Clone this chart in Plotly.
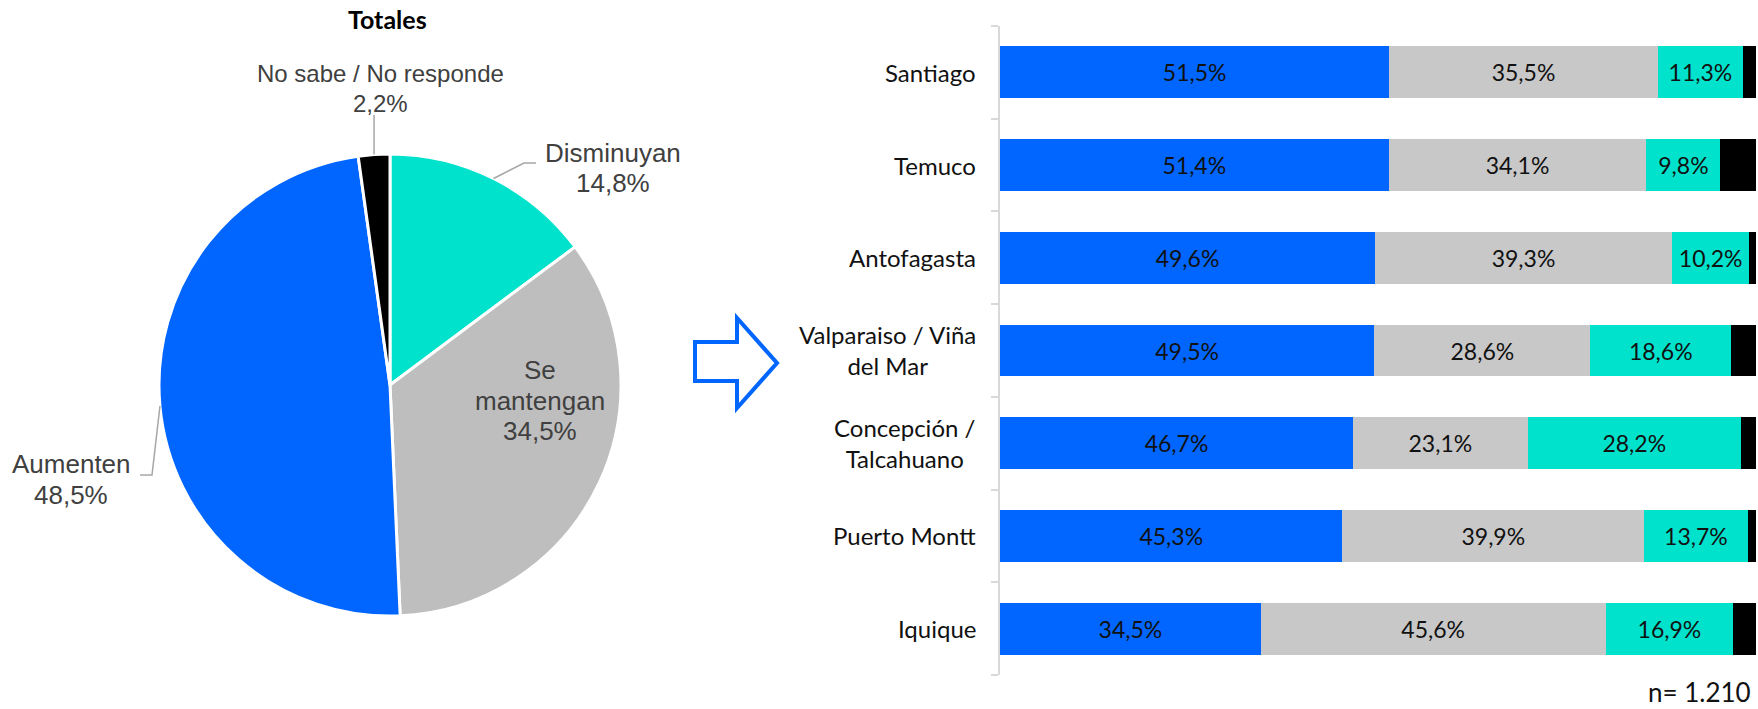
import math
import plotly.graph_objects as go

W, H = 1758, 709

# pie data (totals)
pie_labels = ["Disminuyan", "Se mantengan", "Aumenten", "No sabe / No responde"]
pie_values = [14.8, 34.5, 48.5, 2.2]
pie_colors = ["#00E2CC", "#BEBEBE", "#0066FF", "#000000"]

# stacked bar data by city
cities = ["Santiago", "Temuco", "Antofagasta", "Valparaiso / Viña<br>del Mar",
          "Concepción /<br>Talcahuano", "Puerto Montt", "Iquique"]
aumenten = [51.5, 51.4, 49.6, 49.5, 46.7, 45.3, 34.5]
mantengan = [35.5, 34.1, 39.3, 28.6, 23.1, 39.9, 45.6]
disminuyan = [11.3, 9.8, 10.2, 18.6, 28.2, 13.7, 16.9]
nsnr = [1.7, 4.7, 0.9, 3.3, 2.0, 1.1, 3.0]
n_text = "n= 1.210"


def px(x):
    return x / W


def py(y):
    return 1 - y / H


def pct(v):
    return f"{v:.1f}".replace(".", ",") + "%"


# pie geometry in pixels
cx, cy, r = 390, 385, 231

fig = go.Figure()

fig.add_trace(go.Pie(
    labels=pie_labels, values=pie_values, sort=False, direction="clockwise",
    marker=dict(colors=pie_colors, line=dict(color="white", width=3)),
    textinfo="none", hoverinfo="skip", showlegend=False,
    domain=dict(x=[px(cx - r), px(cx + r)], y=[py(cy + r), py(cy - r)]),
))

bar_colors = ["#0066FF", "#C8C8C8", "#00E2CC", "#000000"]
series = [aumenten, mantengan, disminuyan, nsnr]
for i, (vals, col) in enumerate(zip(series, bar_colors)):
    fig.add_trace(go.Bar(
        y=list(range(len(cities))), x=vals, orientation="h",
        marker=dict(color=col, line=dict(width=0)),
        text=[pct(v) for v in vals] if i < 3 else None,
        textposition="inside", insidetextanchor="middle", textangle=0,
        insidetextfont=dict(family="Lato", size=23, color="#111111"),
        hoverinfo="skip", showlegend=False,
    ))

# axes for bar chart
fig.update_xaxes(domain=[px(1000), px(1756)], range=[0, 100], visible=False)
fig.update_yaxes(
    domain=[py(675), py(26)], range=[6.5, -0.5], type="linear",
    showline=True, linecolor="#D9D9D9", linewidth=2,
    ticks="outside", ticklen=7, tickcolor="#D9D9D9", tickwidth=2,
    tickmode="array", tickvals=[k - 0.5 for k in range(len(cities) + 1)],
    showticklabels=False, showgrid=False, zeroline=False,
)

annotations = []
# city labels
for k, c in enumerate(cities):
    annotations.append(dict(
        x=px(978), xref="paper", y=k, yref="y", text=c, showarrow=False,
        xanchor="right", yanchor="middle", align="center",
        font=dict(family="Lato", size=24, color="#111111"),
    ))

# pie labels, one annotation per line (x centre, first line y, font size)
pie_text_pos = {
    "Disminuyan": (613, 153, 26),
    "Se mantengan": (540, 370, 26),
    "Aumenten": (71, 464, 26),
    "No sabe / No responde": (380, 73, 24),
}
line_step = 30.5
for lab, val in zip(pie_labels, pie_values):
    x, y0, fs = pie_text_pos[lab]
    lines = ["Se", "mantengan"] if lab == "Se mantengan" else [lab]
    lines = lines + [pct(val)]
    for j, t in enumerate(lines):
        annotations.append(dict(
            x=px(x), y=py(y0 + j * line_step), xref="paper", yref="paper",
            text=t, showarrow=False, xanchor="center", yanchor="middle",
            font=dict(family="Arial, Liberation Sans", size=fs, color="#404040"),
        ))

annotations.append(dict(
    x=px(387), y=py(19), xref="paper", yref="paper", text="<b>Totales</b>",
    showarrow=False, xanchor="center", yanchor="middle",
    font=dict(family="Lato", size=25, color="#000000"),
))
annotations.append(dict(
    x=px(1753), y=py(692), xref="paper", yref="paper", text=n_text,
    showarrow=False, xanchor="right", yanchor="middle",
    font=dict(family="Lato", size=26, color="#111111"),
))

# leader lines from slice mid-angles
total = sum(pie_values)
edges = {}
acc = 0
for lab, val in zip(pie_labels, pie_values):
    th = 2 * math.pi * (acc + val / 2) / total
    edges[lab] = (cx + r * math.sin(th), cy - r * math.cos(th))
    acc += val

elbows = {
    "Disminuyan": [(524, 163), (536, 163)],
    "Aumenten": [(152, 475), (140, 475)],
    "No sabe / No responde": [(None, 115)],
}
shapes = []
for lab, pts in elbows.items():
    ex, ey = edges[lab]
    path_pts = [(ex, ey)] + [(ex if p[0] is None else p[0], p[1]) for p in pts]
    d = "M " + " L ".join(f"{px(a):.5f},{py(b):.5f}" for a, b in path_pts)
    shapes.append(dict(type="path", path=d, xref="paper", yref="paper",
                       line=dict(color="#A6A6A6", width=1.5)))

# block arrow between the two charts
arrow = [(695, 342), (737, 342), (737, 318), (777, 363), (737, 408),
         (737, 381), (695, 381)]
d = "M " + " L ".join(f"{px(a):.5f},{py(b):.5f}" for a, b in arrow) + " Z"
shapes.append(dict(type="path", path=d, xref="paper", yref="paper",
                   line=dict(color="#0066FF", width=4), fillcolor="white"))

fig.update_layout(
    width=W, height=H, barmode="stack", bargap=0.44,
    margin=dict(l=0, r=0, t=0, b=0),
    paper_bgcolor="white", plot_bgcolor="white",
    annotations=annotations, shapes=shapes,
)

fig.write_html(
    "out.html",
    config={"displayModeBar": False},
    post_script="document.body.style.margin='0';document.body.style.overflow='hidden';",
)
